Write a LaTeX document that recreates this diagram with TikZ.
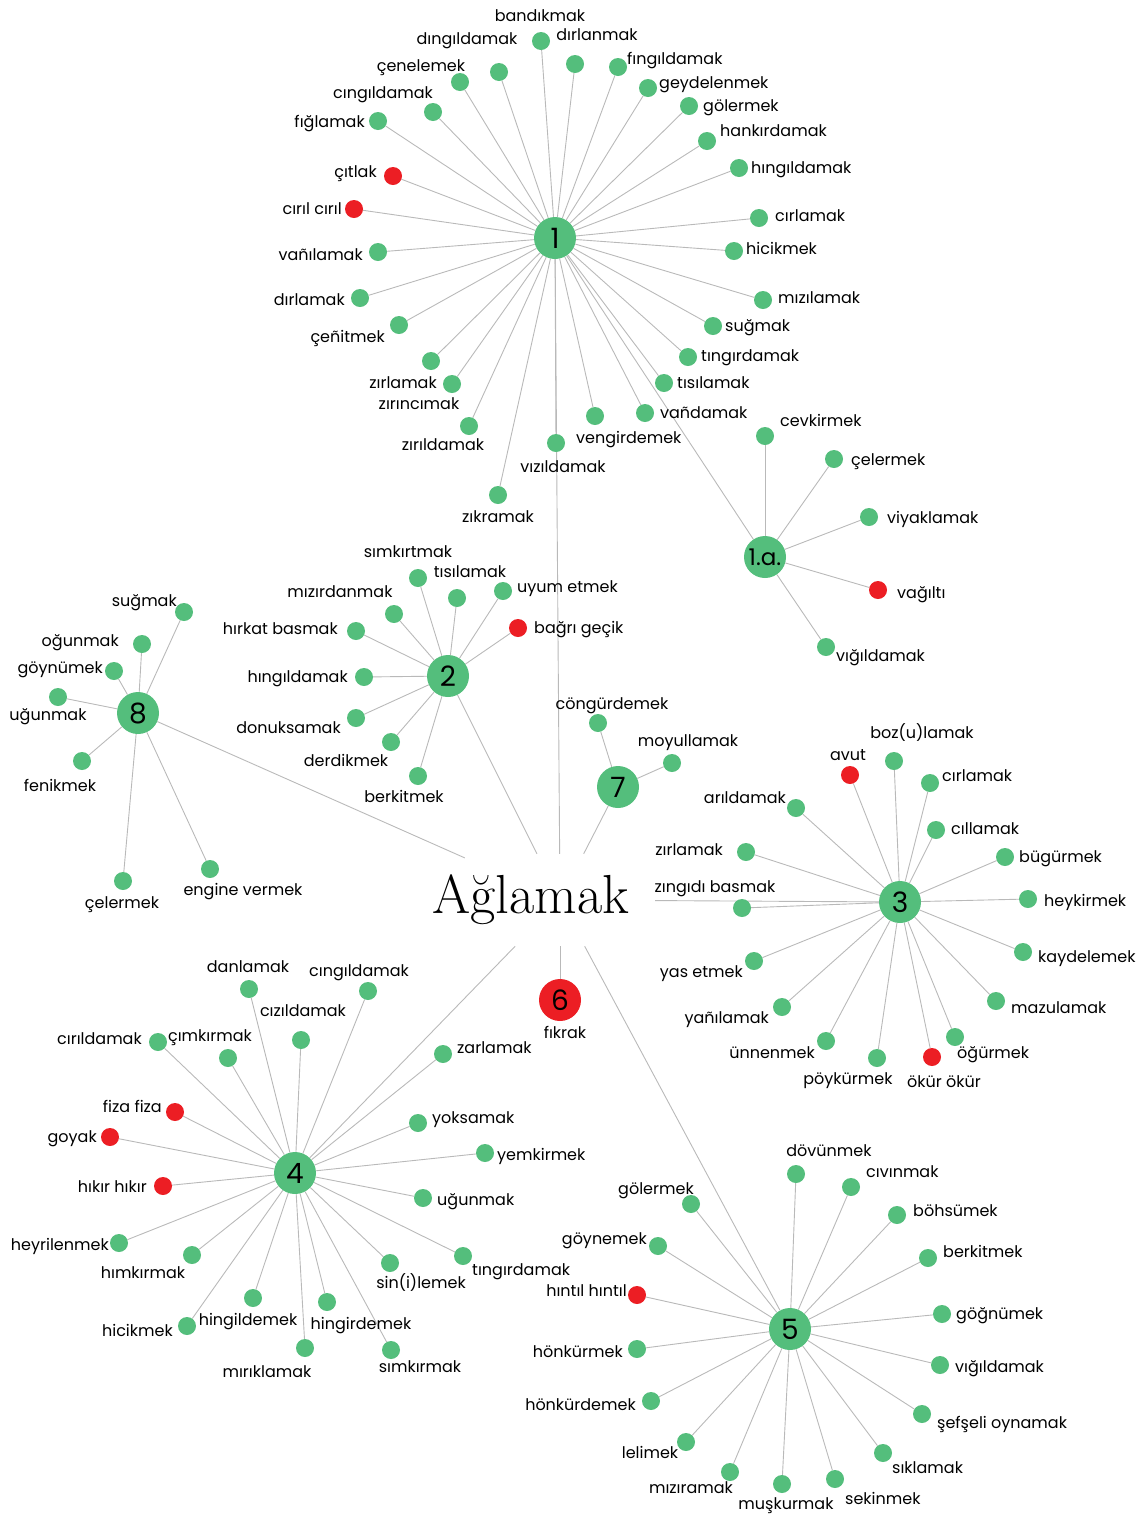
\documentclass[tikz,border=0pt]{standalone}
\usepackage{fontspec}
\newfontfamily\poppins{Poppins}
\usetikzlibrary{backgrounds}
\definecolor{leafgreen}{RGB}{84,190,124}
\definecolor{leafred}{RGB}{236,30,36}
\definecolor{edgegray}{RGB}{185,185,185}
\tikzset{
  hub/.style     = {circle, fill=leafgreen, minimum size=42pt, inner sep=0pt,
                    font=\poppins\fontsize{28}{30}\selectfont},
  subhub/.style  = {hub, font=\poppins\fontsize{23}{25}\selectfont},
  leaf/.style    = {circle, fill=leafgreen, minimum size=18pt, inner sep=0pt},
  redleaf/.style = {leaf, fill=leafred},
  word/.style    = {inner sep=0pt, anchor=mid, yshift=-3pt,
                    font=\poppins\fontsize{16}{18}\selectfont},
  wl/.style      = {word, anchor=mid east},
  wr/.style      = {word, anchor=mid west},
  root/.style    = {rectangle, minimum width=190pt, minimum height=92pt},
  edge/.style    = {draw=edgegray, line width=0.9pt}
}

\begin{document}
\begin{tikzpicture}[x=1pt, y=-1pt]
  \useasboundingbox (0,0) rectangle (1142,1516);

  % centre word
  \node[root, label={[font=\fontsize{55}{60}\selectfont, xshift=-29pt]center:Ağlamak}] (agl) at (560,900) {};

  % hubs
  \node[hub] (k1) at (555,238) {1};
  \node[subhub] (k1a) at (765,557) {1.a.};
  \node[hub] (k2) at (448,676) {2};
  \node[hub] (k3) at (900,902) {3};
  \node[hub] (k4) at (295,1173) {4};
  \node[hub] (k5) at (790,1329) {5};
  \node[hub, fill=leafred] (k6) at (560,1000) {6} node[word] (k6w) at (565,1033) {fıkrak};
  \node[hub] (k7) at (618,787) {7};
  \node[hub] (k8) at (138,713) {8};

  % 1
  \node[leaf] (k1-1) at (541,41) {} node[word] (k1-1w) at (540,16) {bandıkmak};
  \node[leaf] (k1-2) at (575,64) {} node[word] (k1-2w) at (597,35) {dırlanmak};
  \node[leaf] (k1-3) at (618,67) {} node[wr] (k1-3w) at (627,59) {fıngıldamak};
  \node[leaf] (k1-4) at (648,88) {} node[wr] (k1-4w) at (659,83) {geydelenmek};
  \node[leaf] (k1-5) at (689,106) {} node[wr] (k1-5w) at (703,106) {gölermek};
  \node[leaf] (k1-6) at (707,141) {} node[wr] (k1-6w) at (720,131) {hankırdamak};
  \node[leaf] (k1-7) at (739,168) {} node[wr] (k1-7w) at (751,168) {hıngıldamak};
  \node[leaf] (k1-8) at (759,218) {} node[wr] (k1-8w) at (775,216) {cırlamak};
  \node[leaf] (k1-9) at (734,251) {} node[wr] (k1-9w) at (746,249) {hicikmek};
  \node[leaf] (k1-10) at (763,300) {} node[wr] (k1-10w) at (778,298) {mızılamak};
  \node[leaf] (k1-11) at (713,326) {} node[wr] (k1-11w) at (725,326) {suğmak};
  \node[leaf] (k1-12) at (688,357) {} node[wr] (k1-12w) at (701,356) {tıngırdamak};
  \node[leaf] (k1-13) at (664,383) {} node[wr] (k1-13w) at (677,383) {tısılamak};
  \node[leaf] (k1-14) at (645,413) {} node[wr] (k1-14w) at (660,413) {vañdamak};
  \node[leaf] (k1-15) at (595,416) {} node[wr] (k1-15w) at (576,438) {vengirdemek};
  \node[leaf] (k1-16) at (556,443) {} node[word] (k1-16w) at (563,467) {vızıldamak};
  \node[leaf] (k1-17) at (498,495) {} node[word] (k1-17w) at (498,517) {zıkramak};
  \node[leaf] (k1-18) at (469,426) {} node[word] (k1-18w) at (443,445) {zırıldamak};
  \node[leaf] (k1-19) at (452,384) {} node[word] (k1-19w) at (419,404) {zırıncımak};
  \node[leaf] (k1-20) at (431,361) {} node[wl] (k1-20w) at (437,383) {zırlamak};
  \node[leaf] (k1-21) at (399,325) {} node[wl] (k1-21w) at (385,337) {çeñitmek};
  \node[leaf] (k1-22) at (360,298) {} node[wl] (k1-22w) at (345,300) {dırlamak};
  \node[leaf] (k1-23) at (378,252) {} node[wl] (k1-23w) at (363,255) {vañılamak};
  \node[redleaf] (k1-24) at (354,209) {} node[wl] (k1-24w) at (342,209) {cırıl cırıl};
  \node[redleaf] (k1-25) at (393,176) {} node[wl] (k1-25w) at (377,172) {çıtlak};
  \node[leaf] (k1-26) at (378,121) {} node[wl] (k1-26w) at (365,122) {fığlamak};
  \node[leaf] (k1-27) at (433,112) {} node[word] (k1-27w) at (383,93) {cıngıldamak};
  \node[leaf] (k1-28) at (460,82) {} node[word] (k1-28w) at (421,66) {çenelemek};
  \node[leaf] (k1-29) at (499,72) {} node[word] (k1-29w) at (467,39) {dıngıldamak};

  % 1.a.
  \node[leaf] (k1a-1) at (765,436) {} node[wr] (k1a-1w) at (780,421) {cevkirmek};
  \node[leaf] (k1a-2) at (834,459) {} node[wr] (k1a-2w) at (851,460) {çelermek};
  \node[leaf] (k1a-3) at (869,517) {} node[wr] (k1a-3w) at (887,518) {viyaklamak};
  \node[redleaf] (k1a-4) at (878,590) {} node[wr] (k1a-4w) at (897,593) {vağıltı};
  \node[leaf] (k1a-5) at (826,647) {} node[wr] (k1a-5w) at (836,656) {vığıldamak};

  % 2
  \node[leaf] (k2-1) at (418,578) {} node[word] (k2-1w) at (408,552) {sımkırtmak};
  \node[leaf] (k2-2) at (457,598) {} node[word] (k2-2w) at (470,572) {tısılamak};
  \node[leaf] (k2-3) at (503,591) {} node[wr] (k2-3w) at (517,587) {uyum etmek};
  \node[redleaf] (k2-4) at (518,628) {} node[wr] (k2-4w) at (534,628) {bağrı geçik};
  \node[leaf] (k2-5) at (394,614) {} node[word] (k2-5w) at (340,592) {mızırdanmak};
  \node[leaf] (k2-6) at (356,631) {} node[wl] (k2-6w) at (338,629) {hırkat basmak};
  \node[leaf] (k2-7) at (364,677) {} node[wl] (k2-7w) at (348,677) {hıngıldamak};
  \node[leaf] (k2-8) at (356,718) {} node[wl] (k2-8w) at (341,728) {donuksamak};
  \node[leaf] (k2-9) at (391,742) {} node[word] (k2-9w) at (346,761) {derdikmek};
  \node[leaf] (k2-10) at (418,776) {} node[word] (k2-10w) at (404,797) {berkitmek};

  % 3
  \node[leaf] (k3-1) at (894,761) {} node[word] (k3-1w) at (922,733) {boz(u)lamak};
  \node[redleaf] (k3-2) at (850,775) {} node[word] (k3-2w) at (848,755) {avut};
  \node[leaf] (k3-3) at (930,783) {} node[wr] (k3-3w) at (942,776) {cırlamak};
  \node[leaf] (k3-4) at (796,808) {} node[wl] (k3-4w) at (786,798) {arıldamak};
  \node[leaf] (k3-5) at (936,830) {} node[wr] (k3-5w) at (951,829) {cıllamak};
  \node[leaf] (k3-6) at (1005,857) {} node[wr] (k3-6w) at (1019,857) {bügürmek};
  \node[leaf] (k3-7) at (746,852) {} node[wl] (k3-7w) at (723,850) {zırlamak};
  \node[leaf] (k3-8) at (1028,899) {} node[wr] (k3-8w) at (1044,901) {heykirmek};
  \node[leaf] (k3-9) at (742,908) {} node[word] (k3-9w) at (715,887) {zıngıdı basmak};
  \node[leaf] (k3-10) at (1023,952) {} node[wr] (k3-10w) at (1038,957) {kaydelemek};
  \node[leaf] (k3-11) at (754,961) {} node[wl] (k3-11w) at (743,972) {yas etmek};
  \node[leaf] (k3-12) at (996,1001) {} node[wr] (k3-12w) at (1011,1008) {mazulamak};
  \node[leaf] (k3-13) at (782,1007) {} node[wl] (k3-13w) at (769,1018) {yañılamak};
  \node[leaf] (k3-14) at (826,1041) {} node[wl] (k3-14w) at (815,1053) {ünnenmek};
  \node[leaf] (k3-15) at (877,1058) {} node[word] (k3-15w) at (848,1079) {pöykürmek};
  \node[redleaf] (k3-16) at (932,1057) {} node[word] (k3-16w) at (944,1082) {ökür ökür};
  \node[leaf] (k3-17) at (955,1037) {} node[wr] (k3-17w) at (957,1053) {öğürmek};

  % 4
  \node[leaf] (k4-1) at (249,989) {} node[word] (k4-1w) at (248,967) {danlamak};
  \node[leaf] (k4-2) at (368,991) {} node[word] (k4-2w) at (359,971) {cıngıldamak};
  \node[leaf] (k4-3) at (301,1040) {} node[word] (k4-3w) at (303,1011) {cızıldamak};
  \node[leaf] (k4-4) at (158,1042) {} node[wl] (k4-4w) at (142,1039) {cırıldamak};
  \node[leaf] (k4-5) at (228,1058) {} node[word] (k4-5w) at (210,1036) {çımkırmak};
  \node[leaf] (k4-6) at (443,1054) {} node[wr] (k4-6w) at (457,1048) {zarlamak};
  \node[redleaf] (k4-7) at (175,1112) {} node[wl] (k4-7w) at (162,1107) {fiza fiza};
  \node[redleaf] (k4-8) at (110,1137) {} node[wl] (k4-8w) at (97,1137) {goyak};
  \node[redleaf] (k4-9) at (163,1186) {} node[wl] (k4-9w) at (147,1187) {hıkır hıkır};
  \node[leaf] (k4-10) at (418,1123) {} node[wr] (k4-10w) at (432,1118) {yoksamak};
  \node[leaf] (k4-11) at (485,1153) {} node[wr] (k4-11w) at (497,1155) {yemkirmek};
  \node[leaf] (k4-12) at (423,1198) {} node[wr] (k4-12w) at (437,1200) {uğunmak};
  \node[leaf] (k4-13) at (119,1243) {} node[wl] (k4-13w) at (109,1245) {heyrilenmek};
  \node[leaf] (k4-14) at (192,1255) {} node[word] (k4-14w) at (143,1273) {hımkırmak};
  \node[leaf] (k4-15) at (390,1263) {} node[word] (k4-15w) at (421,1283) {sin(i)lemek};
  \node[leaf] (k4-16) at (463,1256) {} node[wr] (k4-16w) at (472,1270) {tıngırdamak};
  \node[leaf] (k4-17) at (253,1298) {} node[word] (k4-17w) at (248,1320) {hingildemek};
  \node[leaf] (k4-18) at (327,1302) {} node[word] (k4-18w) at (361,1324) {hingirdemek};
  \node[leaf] (k4-19) at (187,1326) {} node[wl] (k4-19w) at (173,1331) {hicikmek};
  \node[leaf] (k4-20) at (305,1348) {} node[word] (k4-20w) at (267,1372) {mırıklamak};
  \node[leaf] (k4-21) at (391,1350) {} node[word] (k4-21w) at (420,1367) {sımkırmak};

  % 5
  \node[leaf] (k5-1) at (796,1174) {} node[word] (k5-1w) at (829,1151) {dövünmek};
  \node[leaf] (k5-2) at (851,1187) {} node[wr] (k5-2w) at (866,1172) {cıvınmak};
  \node[leaf] (k5-3) at (897,1215) {} node[wr] (k5-3w) at (913,1211) {böhsümek};
  \node[leaf] (k5-4) at (928,1258) {} node[wr] (k5-4w) at (943,1252) {berkitmek};
  \node[leaf] (k5-5) at (942,1314) {} node[wr] (k5-5w) at (956,1314) {göğnümek};
  \node[leaf] (k5-6) at (940,1365) {} node[wr] (k5-6w) at (955,1367) {vığıldamak};
  \node[leaf] (k5-7) at (922,1414) {} node[wr] (k5-7w) at (937,1423) {şefşeli oynamak};
  \node[leaf] (k5-8) at (883,1453) {} node[wr] (k5-8w) at (892,1468) {sıklamak};
  \node[leaf] (k5-9) at (835,1479) {} node[wr] (k5-9w) at (845,1499) {sekinmek};
  \node[leaf] (k5-10) at (782,1484) {} node[word] (k5-10w) at (786,1504) {muşkurmak};
  \node[leaf] (k5-11) at (730,1472) {} node[word] (k5-11w) at (691,1488) {mızıramak};
  \node[leaf] (k5-12) at (686,1442) {} node[word] (k5-12w) at (650,1453) {lelimek};
  \node[leaf] (k5-13) at (651,1401) {} node[wl] (k5-13w) at (636,1405) {hönkürdemek};
  \node[leaf] (k5-14) at (637,1349) {} node[wl] (k5-14w) at (623,1352) {hönkürmek};
  \node[redleaf] (k5-15) at (637,1295) {} node[wl] (k5-15w) at (627,1291) {hıntıl hıntıl};
  \node[leaf] (k5-16) at (658,1246) {} node[wl] (k5-16w) at (647,1239) {göynemek};
  \node[leaf] (k5-17) at (691,1204) {} node[word] (k5-17w) at (656,1189) {gölermek};

  % 7
  \node[leaf] (k7-1) at (598,723) {} node[word] (k7-1w) at (612,704) {cöngürdemek};
  \node[leaf] (k7-2) at (672,763) {} node[word] (k7-2w) at (688,741) {moyullamak};

  % 8
  \node[leaf] (k8-1) at (184,612) {} node[wl] (k8-1w) at (177,601) {suğmak};
  \node[leaf] (k8-2) at (142,644) {} node[wl] (k8-2w) at (119,641) {oğunmak};
  \node[leaf] (k8-3) at (114,671) {} node[wl] (k8-3w) at (103,668) {göynümek};
  \node[leaf] (k8-4) at (58,697) {} node[word] (k8-4w) at (48,715) {uğunmak};
  \node[leaf] (k8-5) at (82,761) {} node[word] (k8-5w) at (60,786) {fenikmek};
  \node[leaf] (k8-6) at (123,881) {} node[word] (k8-6w) at (122,903) {çelermek};
  \node[leaf] (k8-7) at (210,869) {} node[word] (k8-7w) at (243,890) {engine vermek};

  \begin{pgfonlayer}{background}
    \foreach \h in {k1,k2,k3,k4,k5,k6,k7,k8}
      \draw[edge] (\h) -- (agl);
    \draw[edge] (k1) -- (k1a);
    \foreach \i in {1,...,29} \draw[edge] (k1) -- (k1-\i);
    \foreach \i in {1,...,5} \draw[edge] (k1a) -- (k1a-\i);
    \foreach \i in {1,...,10} \draw[edge] (k2) -- (k2-\i);
    \foreach \i in {1,...,17} \draw[edge] (k3) -- (k3-\i);
    \foreach \i in {1,...,21} \draw[edge] (k4) -- (k4-\i);
    \foreach \i in {1,...,17} \draw[edge] (k5) -- (k5-\i);
    \foreach \i in {1,2} \draw[edge] (k7) -- (k7-\i);
    \foreach \i in {1,...,7} \draw[edge] (k8) -- (k8-\i);
  \end{pgfonlayer}
\end{tikzpicture}
\end{document}
